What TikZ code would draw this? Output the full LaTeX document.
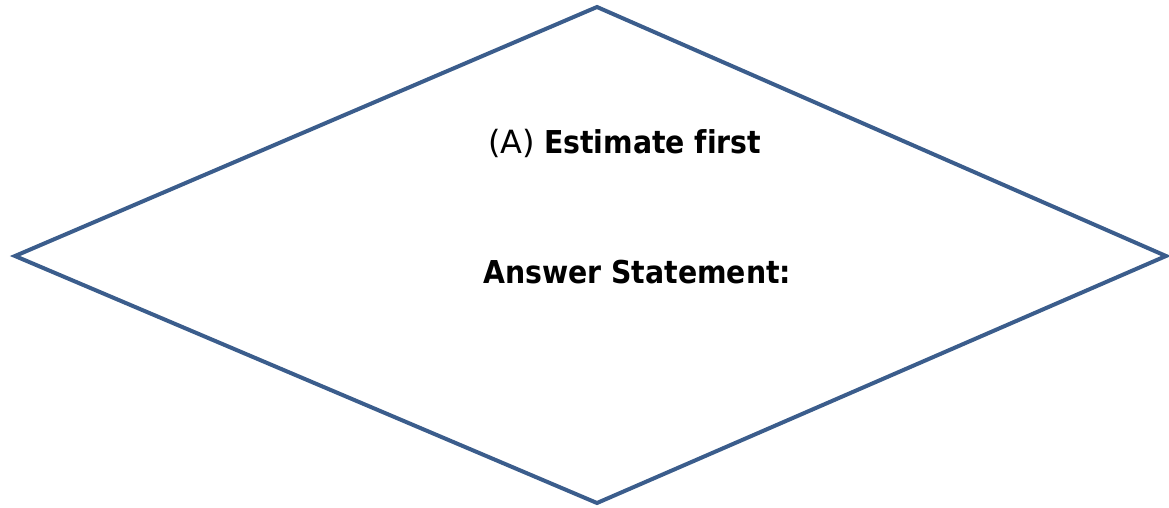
\documentclass[tikz,border=0pt]{standalone}
\usepackage{fontspec}
\setmainfont[Ligatures=NoCommon]{DejaVu Sans Condensed}
\newfontfamily\widefont{DejaVu Sans}
\definecolor{edgeblue}{HTML}{3B5D8C}
\begin{document}
\begin{tikzpicture}[x=1pt,y=1pt,
  label text/.style={inner sep=0pt, anchor=base west, font=\fontsize{31.5}{36}\selectfont}]
\useasboundingbox (0,0) rectangle (1169,507);
\coordinate (top) at (597,500);
\coordinate (left) at (15,251);
\coordinate (right) at (1166,251);
\coordinate (bottom) at (597,4);
\draw[edgeblue, line width=4pt, line join=miter] (top) -- (right) -- (bottom) -- (left) -- cycle;
\node[label text] (a) at (488,353) {{\widefont\fontsize{32}{36}\selectfont (A)} \textbf{Estimate first}};
\node[label text] (ans) at (483,224) {\textbf{Answer Statement:}};
\end{tikzpicture}
\end{document}
